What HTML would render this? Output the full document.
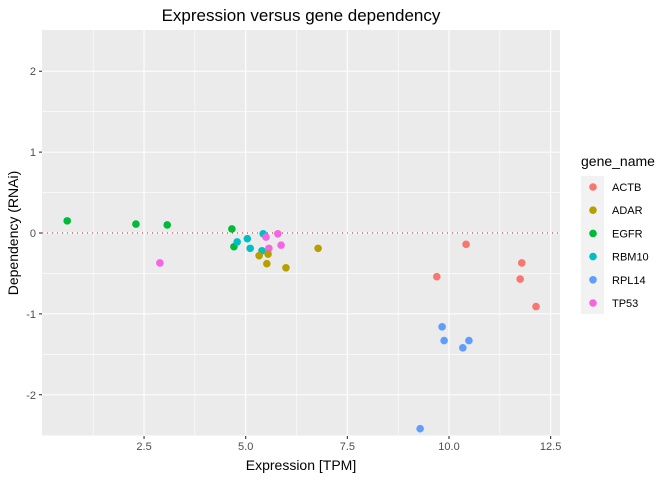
<!DOCTYPE html>
<html><head><meta charset="utf-8"><style>
body{margin:0;background:#fff;font-family:"Liberation Sans",sans-serif;}
svg text{font-family:"Liberation Sans",sans-serif;}
</style></head><body>
<svg id="c" width="672" height="480" xmlns="http://www.w3.org/2000/svg"></svg>
<script>
const genes=["ACTB","ADAR","EGFR","RBM10","RPL14","TP53"];
const colors=["#F8766D","#B79F00","#00BA38","#00BFC4","#619CFF","#F564E3"];
const xTicks=[2.5,5.0,7.5,10.0,12.5];
const xTickLabels=["2.5","5.0","7.5","10.0","12.5"];
const yTicks=[-2,-1,0,1,2];
const yTickLabels=["-2","-1","0","1","2"];
const ptGene=["EGFR","EGFR","EGFR","EGFR","EGFR","RBM10","RBM10","RBM10","RBM10","RBM10","TP53","TP53","TP53","TP53","TP53","ADAR","ADAR","ADAR","ADAR","ADAR","ACTB","ACTB","ACTB","ACTB","ACTB","RPL14","RPL14","RPL14","RPL14","RPL14"];
const ptX=[0.61,2.30,3.07,4.66,4.71,5.43,4.79,5.04,5.11,5.40,2.89,5.50,5.79,5.87,5.57,5.33,5.55,5.52,5.99,6.78,10.42,11.79,9.70,11.75,12.14,9.83,9.88,10.49,10.34,9.29];
const ptY=[0.15,0.11,0.10,0.05,-0.17,-0.01,-0.11,-0.07,-0.19,-0.22,-0.37,-0.05,-0.01,-0.15,-0.19,-0.28,-0.26,-0.38,-0.43,-0.19,-0.14,-0.37,-0.54,-0.57,-0.91,-1.16,-1.33,-1.33,-1.42,-2.42];
const P={l:42,r:560,t:30,b:436},xd=[-0.01,12.73],yd=[-2.51,2.51];
const sx=v=>P.l+(v-xd[0])/(xd[1]-xd[0])*(P.r-P.l);
const sy=v=>P.b-(v-yd[0])/(yd[1]-yd[0])*(P.b-P.t);
const svg=document.getElementById('c');const NS="http://www.w3.org/2000/svg";
function mk(t,a,p){const e=document.createElementNS(NS,t);for(const k in a)e.setAttribute(k,a[k]);(p||svg).appendChild(e);return e;}
let e=mk('rect',{x:P.l,y:P.t,width:P.r-P.l,height:P.b-P.t,fill:'#EBEBEB'});


for(let i=0;i<xTicks.length;i++){const v=xTicks[i]-1.25;if(v>xd[0]){e=mk('line',{x1:sx(v),x2:sx(v),y1:P.t,y2:P.b,stroke:'#fff','stroke-width':0.55});}}
{const v=xTicks[xTicks.length-1]+1.25;}
for(let i=0;i<yTicks.length-1;i++){const v=yTicks[i]+0.5;mk('line',{x1:P.l,x2:P.r,y1:sy(v),y2:sy(v),stroke:'#fff','stroke-width':0.55});}
mk('line',{x1:P.l,x2:P.r,y1:sy(-2.5)+0.3,y2:sy(-2.5)+0.3,stroke:'#fff','stroke-width':0.55});
xTicks.forEach((v,i)=>{mk('line',{x1:sx(v),x2:sx(v),y1:P.t,y2:P.b,stroke:'#fff','stroke-width':1.1});
mk('line',{x1:sx(v),x2:sx(v),y1:P.b,y2:P.b+3,stroke:'#333','stroke-width':1.1});
e=mk('text',{x:sx(v),y:P.b+14,'text-anchor':'middle','font-size':11,fill:'#4D4D4D'});e.textContent=xTickLabels[i];

});
yTicks.forEach((v,i)=>{mk('line',{x1:P.l,x2:P.r,y1:sy(v),y2:sy(v),stroke:'#fff','stroke-width':1.1});
mk('line',{x1:P.l-3,x2:P.l,y1:sy(v),y2:sy(v),stroke:'#333','stroke-width':1.1});
e=mk('text',{x:P.l-6,y:sy(v)+4,'text-anchor':'end','font-size':11,fill:'#4D4D4D'});e.textContent=yTickLabels[i];

});
e=mk('line',{x1:P.l,x2:P.r,y1:sy(0),y2:sy(0),stroke:'#E41A1C','stroke-width':1.1,'stroke-dasharray':'1,4'});


ptX.forEach((x,i)=>{const c=colors[genes.indexOf(ptGene[i])];
const d=mk('circle',{cx:sx(x),cy:sy(ptY[i]),r:3.8,fill:c});

});
e=mk('text',{x:301,y:21,'text-anchor':'middle','font-size':17,fill:'#000'});e.textContent='Expression versus gene dependency';


e=mk('text',{x:301,y:470,'text-anchor':'middle','font-size':14,fill:'#000'});e.textContent='Expression [TPM]';


e=mk('text',{x:18,y:233,'text-anchor':'middle','font-size':14,fill:'#000',transform:'rotate(-90 18 233)'});e.textContent='Dependency (RNAi)';


e=mk('text',{x:581,y:166,'font-size':14,fill:'#000'});e.textContent='gene_name';


mk('rect',{x:581,y:176,width:23,height:138,fill:'#F2F2F2'});
genes.forEach((g,i)=>{const y=187+i*23.2;
const d=mk('circle',{cx:593,cy:y,r:3.8,fill:colors[i]});


const t=mk('text',{x:612,y:y+4,'font-size':11,fill:'#000'});t.textContent=g;

});
</script>
</body></html>
